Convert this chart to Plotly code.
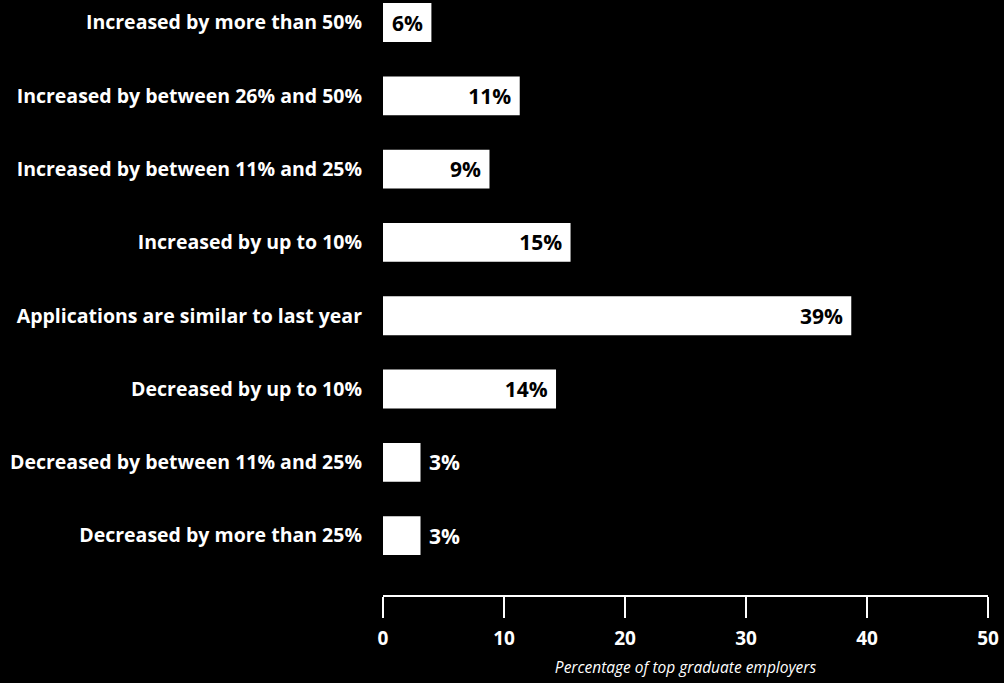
import plotly.graph_objects as go

categories = [
    "Increased by more than 50%",
    "Increased by between 26% and 50%",
    "Increased by between 11% and 25%",
    "Increased by up to 10%",
    "Applications are similar to last year",
    "Decreased by up to 10%",
    "Decreased by between 11% and 25%",
    "Decreased by more than 25%",
]
bar_values = [4.0, 11.3, 8.8, 15.5, 38.7, 14.3, 3.1, 3.1]
value_labels = ["6%", "11%", "9%", "15%", "39%", "14%", "3%", "3%"]
label_positions = ["inside"] * 6 + ["outside"] * 2
x_ticks = [0, 10, 20, 30, 40, 50]

FONT = "Open Sans"
positions = list(range(len(categories)))
texts = [t + "\u00a0" if p == "inside" else "\u00a0" + t
         for t, p in zip(value_labels, label_positions)]

fig = go.Figure(go.Bar(
    x=bar_values,
    y=positions,
    orientation="h",
    width=0.53,
    marker=dict(color="white", line=dict(width=0)),
    text=texts,
    textposition=label_positions,
    insidetextanchor="end",
    insidetextfont=dict(color="black", size=21, family=FONT, weight="bold"),
    outsidetextfont=dict(color="white", size=21, family=FONT, weight="bold"),
    textangle=0,
    cliponaxis=False,
    hoverinfo="skip",
))

fig.update_layout(
    width=1004, height=683,
    paper_bgcolor="black", plot_bgcolor="black",
    margin=dict(l=383, r=16, t=0, b=88),
    showlegend=False,
    font=dict(family=FONT, color="white"),
    uniformtext=dict(minsize=8, mode="show"),
)
fig.update_yaxes(
    range=[7.81, -0.307],
    tickvals=positions, ticktext=categories,
    tickfont=dict(size=19.5, family=FONT, color="white", weight="bold"),
    ticklabelstandoff=20,
    showgrid=False, zeroline=False, showline=False, ticks="",
)
fig.update_xaxes(
    range=[0, 50],
    tickvals=x_ticks,
    tickfont=dict(size=19, family=FONT, color="white", weight="bold"),
    ticks="outside", ticklen=21, tickwidth=2, tickcolor="white",
    ticklabelstandoff=4,
    showline=True, linecolor="white", linewidth=2,
    showgrid=False, zeroline=False,
    title=dict(text="<i>Percentage of top graduate employers</i>",
               font=dict(size=15.5, family=FONT, color="white"), standoff=12),
)

fig.write_html(
    "out.html",
    config={"displayModeBar": False},
    post_script="document.body.style.margin='0';document.body.style.background='black';",
)
